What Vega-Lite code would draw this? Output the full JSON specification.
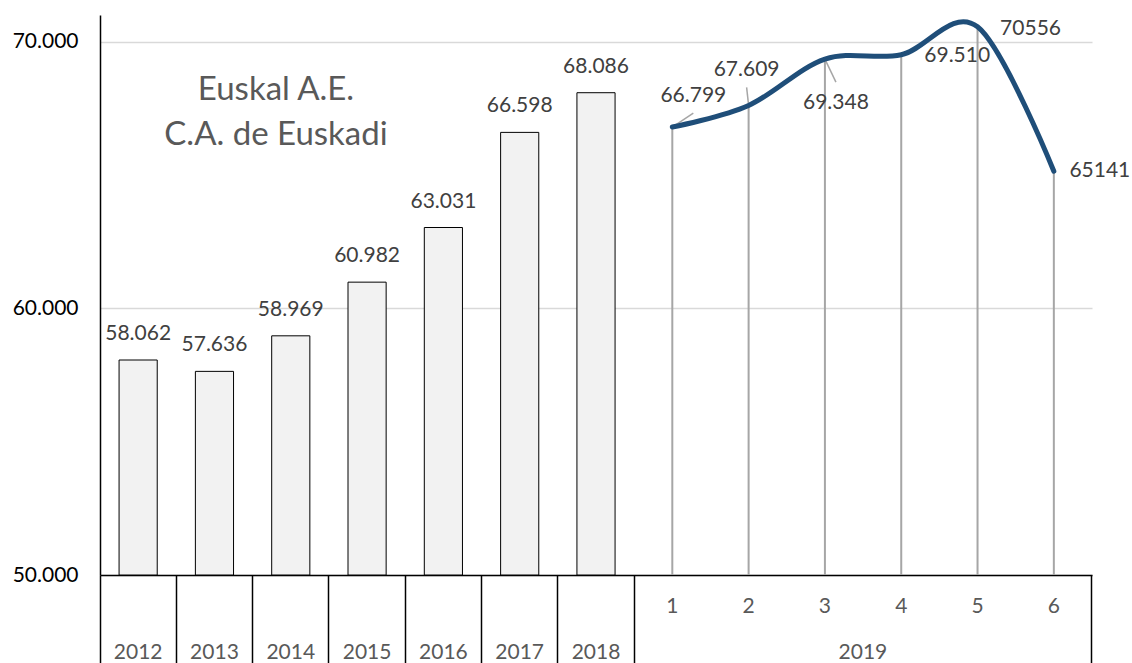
{
  "$schema": "https://vega.github.io/schema/vega-lite/v6.json",
  "width": 992,
  "height": 560,
  "autosize": {"type": "none"},
  "padding": {"left": 100, "top": 15, "right": 40, "bottom": 88},
  "background": "white",
  "config": {
    "locale": {"number": {"decimal": ",", "thousands": ".", "grouping": [3], "currency": ["", " €"]}},
    "view": {"stroke": null},
    "font": "Lato"
  },
  "title": {
    "text": ["Euskal A.E.", "C.A. de Euskadi"],
    "anchor": "start",
    "align": "center",
    "dx": 176,
    "dy": 137,
    "baseline": "top",
    "offset": 0,
    "frame": "group",
    "fontSize": 33,
    "font": "Lato",
    "fontWeight": "normal",
    "color": "#595959",
    "lineHeight": 45
  },
  "datasets": {
    "years": [
      {"cat": "2012", "v": 58062},
      {"cat": "2013", "v": 57636},
      {"cat": "2014", "v": 58969},
      {"cat": "2015", "v": 60982},
      {"cat": "2016", "v": 63031},
      {"cat": "2017", "v": 66598},
      {"cat": "2018", "v": 68086}
    ],
    "months": [
      {"cat": "1", "v": 66799, "label": "66.799"},
      {"cat": "2", "v": 67609, "label": "67.609"},
      {"cat": "3", "v": 69348, "label": "69.348"},
      {"cat": "4", "v": 69510, "label": "69.510"},
      {"cat": "5", "v": 70556, "label": "70556"},
      {"cat": "6", "v": 65141, "label": "65141"}
    ]
  },
  "layer": [
    {
      "data": {"name": "years"},
      "mark": {"type": "bar", "fill": "#f2f2f2", "stroke": "#000000", "strokeWidth": 1, "width": {"band": 0.5}},
      "encoding": {
        "x": {
          "field": "cat", "type": "nominal",
          "scale": {"domain": ["2012","2013","2014","2015","2016","2017","2018","1","2","3","4","5","6"], "paddingInner": 0, "paddingOuter": 0},
          "axis": {
            "orient": "bottom", "title": null, "ticks": false, "grid": false,
            "domain": true, "domainColor": "#000000", "domainWidth": 1.5,
            "labelExpr": "datum.value == '3' ? '2019' : (length(datum.value) == 4 ? datum.value : '')",
            "labelOffset": {"condition": {"test": "datum.value == '3'", "value": 38}, "value": 0},
            "labelPadding": 66, "labelFont": "Lato", "labelFontSize": 21, "labelColor": "#595959",
            "labelAngle": 0, "labelOverlap": false, "labelBound": false, "labelFlush": false
          }
        },
        "y": {
          "field": "v", "type": "quantitative",
          "scale": {"domain": [50000, 71000], "nice": false, "zero": false},
          "axis": {
            "values": [50000, 60000, 70000], "format": ",d", "title": null, "ticks": false,
            "domain": true, "domainColor": "#000000", "domainWidth": 1.5,
            "grid": true, "gridColor": "#d9d9d9", "gridWidth": 1.5,
            "labelPadding": 22, "labelFont": "Lato", "labelFontSize": 21, "labelColor": "#000000"
          }
        },
        "y2": {"datum": 50000}
      }
    },
    {
      "data": {"name": "years"},
      "mark": {"type": "text", "baseline": "middle", "align": "center", "dy": -26, "fontSize": 21, "font": "Lato", "color": "#404040"},
      "encoding": {
        "x": {
          "field": "cat", "type": "nominal",
          "scale": {"domain": ["2012","2013","2014","2015","2016","2017","2018","1","2","3","4","5","6"], "paddingInner": 0, "paddingOuter": 0},
          "axis": {
            "orient": "bottom", "title": null, "labels": false, "domain": false, "grid": false,
            "ticks": true, "bandPosition": 1, "values": ["6"], "tickSize": 88, "tickColor": "#000000", "tickWidth": 1.5
          }
        },
        "y": {"field": "v", "type": "quantitative"},
        "text": {"field": "v", "type": "quantitative", "format": ",d"}
      }
    },
    {
      "data": {"name": "months"},
      "mark": {"type": "rule", "color": "#a6a6a6", "strokeWidth": 2},
      "encoding": {
        "x": {
          "field": "cat", "type": "nominal",
          "scale": {"domain": ["2012","2013","2014","2015","2016","2017","2018","1","2","3","4","5","6"], "paddingInner": 0, "paddingOuter": 0},
          "axis": {
            "orient": "bottom", "title": null, "labels": false, "domain": false, "grid": false,
            "ticks": true, "bandPosition": 0, "values": ["2012","2013","2014","2015","2016","2017","2018","1"],
            "tickSize": 88, "tickColor": "#000000", "tickWidth": 1.5
          }
        },
        "y": {"field": "v", "type": "quantitative"},
        "y2": {"datum": 50000}
      }
    },
    {
      "data": {"name": "months"},
      "transform": [{"filter": "datum.cat == '1' || datum.cat == '2' || datum.cat == '3'"}],
      "mark": {
        "type": "rule", "color": "#a6a6a6", "strokeWidth": 1.5,
        "x2Offset": {"expr": "datum.cat == '1' ? 21 : (datum.cat == '2' ? -2 : 11)"},
        "y2Offset": {"expr": "datum.cat == '1' ? -14 : (datum.cat == '2' ? -18 : 23)"}
      },
      "encoding": {
        "x": {
          "field": "cat", "type": "nominal",
          "scale": {"domain": ["2012","2013","2014","2015","2016","2017","2018","1","2","3","4","5","6"], "paddingInner": 0, "paddingOuter": 0},
          "axis": null
        },
        "x2": {"field": "cat"},
        "y": {"field": "v", "type": "quantitative"},
        "y2": {"field": "v"}
      }
    },
    {
      "data": {"name": "months"},
      "mark": {"type": "line", "interpolate": "cardinal", "color": "#1f4e79", "strokeWidth": 5, "strokeCap": "round", "strokeJoin": "round"},
      "encoding": {
        "x": {
          "field": "cat", "type": "nominal",
          "scale": {"domain": ["2012","2013","2014","2015","2016","2017","2018","1","2","3","4","5","6"], "paddingInner": 0, "paddingOuter": 0},
          "axis": {
            "orient": "bottom", "title": null, "ticks": false, "domain": false, "grid": false,
            "labelExpr": "length(datum.value) == 1 ? datum.value : ''",
            "labelPadding": 20, "labelFont": "Lato", "labelFontSize": 21, "labelColor": "#595959",
            "labelAngle": 0, "labelOverlap": false, "labelBound": false, "labelFlush": false
          }
        },
        "y": {"field": "v", "type": "quantitative"}
      }
    },
    {
      "data": {"name": "months"},
      "mark": {
        "type": "text", "baseline": "middle", "align": "center", "fontSize": 21, "font": "Lato", "color": "#404040",
        "dx": {"expr": "[21, -2, 11, 56, 53, 46][toNumber(datum.cat) - 1]"},
        "dy": {"expr": "[-31, -35, 44, 1, 2, 0][toNumber(datum.cat) - 1]"}
      },
      "encoding": {
        "x": {
          "field": "cat", "type": "nominal",
          "scale": {"domain": ["2012","2013","2014","2015","2016","2017","2018","1","2","3","4","5","6"], "paddingInner": 0, "paddingOuter": 0},
          "axis": null
        },
        "y": {"field": "v", "type": "quantitative"},
        "text": {"field": "label", "type": "nominal"}
      }
    }
  ],
  "resolve": {"axis": {"x": "independent"}}
}
